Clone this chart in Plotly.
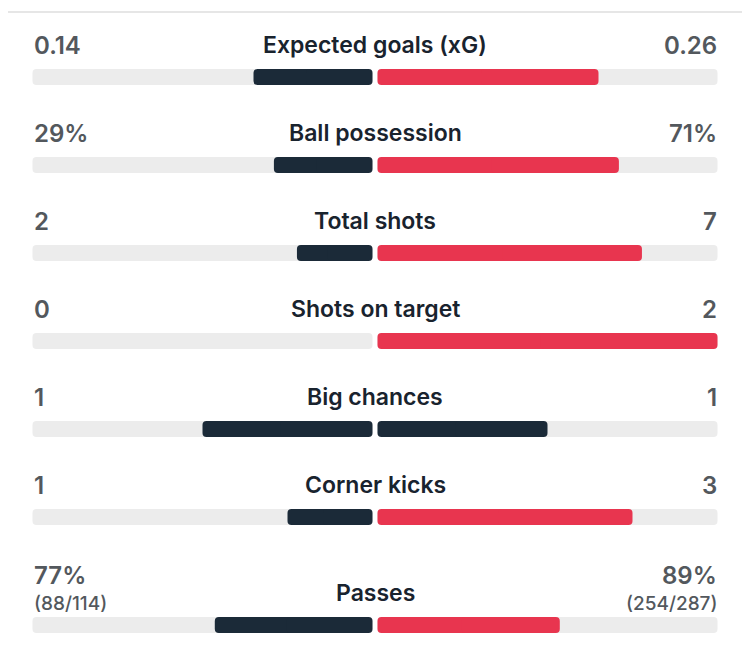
import plotly.graph_objects as go

# ---- data ----
categories = ["Expected goals (xG)", "Ball possession", "Total shots", "Shots on target",
              "Big chances", "Corner kicks", "Passes"]
home_values = [0.14, 29, 2, 0, 1, 1, 77]
away_values = [0.26, 71, 7, 2, 1, 3, 89]
home_labels = ["0.14", "29%", "2", "0", "1", "1", "77%"]
away_labels = ["0.26", "71%", "7", "2", "1", "3", "89%"]
home_sub = ["", "", "", "", "", "", "(88/114)"]
away_sub = ["", "", "", "", "", "", "(254/287)"]

# ---- layout / style ----
PAGE_OFFSET = 8          # default body margin of the html page
W, H = 750 - PAGE_OFFSET, 668 - PAGE_OFFSET
CENTER_PX = 375.0
HALF_PX = 340.0
GAP = 2.5 / HALF_PX
EPS = 7.0 / HALF_PX
ROW_Y = [77, 165, 253, 341, 429, 517, 625]
BAR_H = 16
DARK = "#1b2a38"
RED = "#e8354f"
TRACK = "#ececec"
VAL_COLOR = "#53585d"
TITLE_COLOR = "#19232e"
RADIUS = 4

fig = go.Figure()


def add_round_bar(y, start, end, color):
    """Bar from start to end (axis units) rounded at both ends via two overlapping halves."""
    if abs(end - start) < 1e-9:
        return
    mid = (start + end) / 2.0
    e = min(EPS, abs(end - start) / 4)
    sgn = 1 if end > start else -1
    b1 = mid + sgn * e
    b2 = mid - sgn * e
    fig.add_trace(go.Bar(
        orientation="h", y=[y, y], x=[start - b1, end - b2], base=[b1, b2], width=BAR_H,
        marker=dict(color=color, cornerradius=RADIUS, line=dict(width=0), opacity=1),
        hoverinfo="skip", showlegend=False))


for i, cat in enumerate(categories):
    y = ROW_Y[i]
    h, a = home_values[i], away_values[i]
    tot = h + a
    hs = h / tot if tot else 0
    as_ = a / tot if tot else 0
    add_round_bar(y, -GAP - 1.0, -GAP, TRACK)
    add_round_bar(y, GAP, GAP + 1.0, TRACK)
    hc = RED if h > a else DARK
    ac = RED if a > h else DARK
    add_round_bar(y, -GAP - hs, -GAP, hc)
    add_round_bar(y, GAP, GAP + as_, ac)

annotations = []
LEFT_X = -GAP - 1.0
RIGHT_X = GAP + 1.0
TITLE_FONT = dict(family="Inter", size=23, weight=600, color=TITLE_COLOR)
VAL_FONT = dict(family="Inter", size=24, weight=600, color=VAL_COLOR)
SUB_FONT = dict(family="Inter", size=19, weight=500, color=VAL_COLOR)
for i, cat in enumerate(categories):
    y = ROW_Y[i]
    annotations.append(dict(x=0, y=y - 32, text=cat, showarrow=False, xanchor="center",
                            yanchor="middle", font=TITLE_FONT))
    ly = y - 50 if home_sub[i] else y - 32
    annotations.append(dict(x=LEFT_X, y=ly, text=home_labels[i], showarrow=False,
                            xanchor="left", yanchor="middle", xshift=-1, font=VAL_FONT))
    annotations.append(dict(x=RIGHT_X, y=ly, text=away_labels[i], showarrow=False,
                            xanchor="right", yanchor="middle", xshift=1, font=VAL_FONT))
    if home_sub[i]:
        annotations.append(dict(x=LEFT_X, y=y - 22, text=home_sub[i], showarrow=False,
                                xanchor="left", yanchor="middle", xshift=-1, font=SUB_FONT))
    if away_sub[i]:
        annotations.append(dict(x=RIGHT_X, y=y - 22, text=away_sub[i], showarrow=False,
                                xanchor="right", yanchor="middle", xshift=1, font=SUB_FONT))

fig.update_layout(
    width=W, height=H,
    margin=dict(l=0, r=0, t=0, b=0),
    paper_bgcolor="white", plot_bgcolor="white",
    barmode="overlay",
    showlegend=False,
    xaxis=dict(range=[(PAGE_OFFSET - CENTER_PX) / HALF_PX, (750 - CENTER_PX) / HALF_PX],
               visible=False, fixedrange=True),
    yaxis=dict(range=[668, PAGE_OFFSET], visible=False, fixedrange=True),
    annotations=annotations,
    shapes=[dict(type="line", xref="paper", yref="y", x0=0, x1=1, y0=12, y1=12,
                 line=dict(color="#e6e6e6", width=2))],
)

fig.write_html("out.html")
